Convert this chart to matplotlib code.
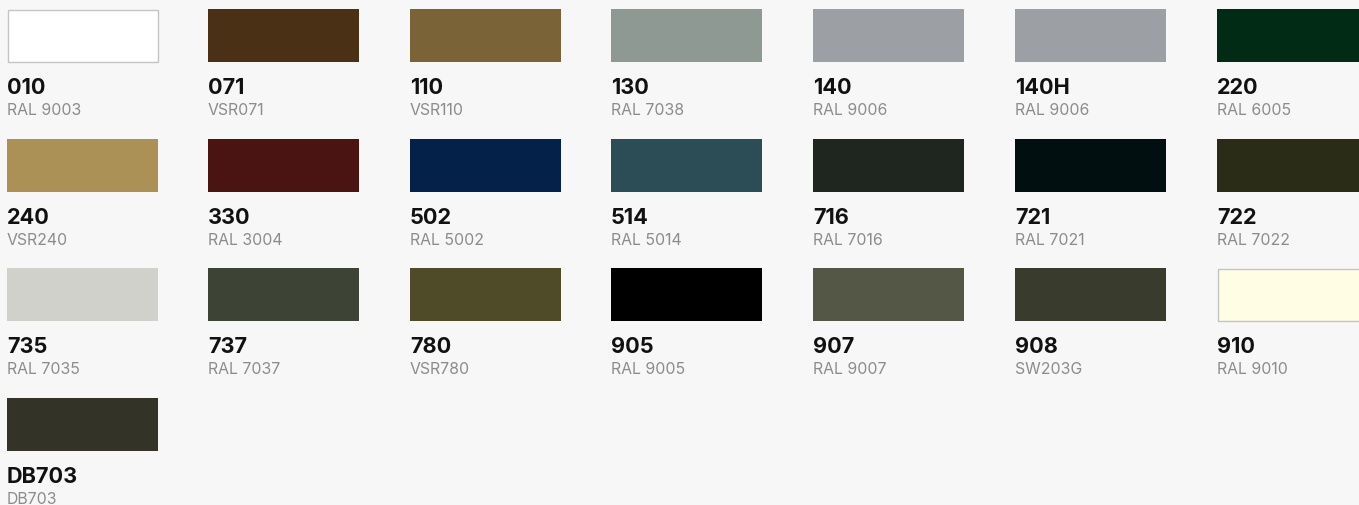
import matplotlib.pyplot as plt
from matplotlib.patches import Rectangle

codes = ["010", "071", "110", "130", "140", "140H", "220",
         "240", "330", "502", "514", "716", "721", "722",
         "735", "737", "780", "905", "907", "908", "910",
         "DB703"]
names = ["RAL 9003", "VSR071", "VSR110", "RAL 7038", "RAL 9006", "RAL 9006", "RAL 6005",
         "VSR240", "RAL 3004", "RAL 5002", "RAL 5014", "RAL 7016", "RAL 7021", "RAL 7022",
         "RAL 7035", "RAL 7037", "VSR780", "RAL 9005", "RAL 9007", "SW203G", "RAL 9010",
         "DB703"]
colors = ["#ffffff", "#4a3015", "#7a6437", "#8e9993", "#9c9fa3", "#9c9fa3", "#022b15",
          "#ab9155", "#4a1412", "#04214a", "#2d4d56", "#1f2620", "#010f10", "#2b2c17",
          "#d1d1cb", "#3d4436", "#4f4a28", "#000000", "#545646", "#393b2c", "#fffde4",
          "#333427"]
# light swatches get a thin border
bordered = {"010", "910"}

W, H = 1359, 506
fig = plt.figure(figsize=(W / 100, H / 100), dpi=100, facecolor="#f7f7f7")
ax = fig.add_axes([0, 0, 1, 1])
ax.set_xlim(0, W)
ax.set_ylim(H, 0)
ax.axis("off")

col_x = [7, 208, 410, 611, 813, 1015, 1217]
row_y = [10, 140, 269, 399]
sw_w, sw_h = 151, 53

for i, (code, name, c) in enumerate(zip(codes, names, colors)):
    x = col_x[i % 7]
    y = row_y[i // 7]
    if code in bordered:
        ax.add_patch(Rectangle((x + 0.5, y + 0.5), sw_w - 1, sw_h - 1,
                               facecolor=c, edgecolor="#c4c4c4", linewidth=1))
    else:
        ax.add_patch(Rectangle((x, y), sw_w, sw_h, facecolor=c,
                               edgecolor="none"))
    ax.text(x, y + 84, code, fontsize=15.6, fontweight="bold", family="Inter",
            color="#111111", va="baseline", ha="left")
    ax.text(x, y + 105, name, fontsize=11.4, family="Inter",
            color="#8c8c8c", va="baseline", ha="left")

fig.savefig("out.png", dpi=100, facecolor=fig.get_facecolor())
